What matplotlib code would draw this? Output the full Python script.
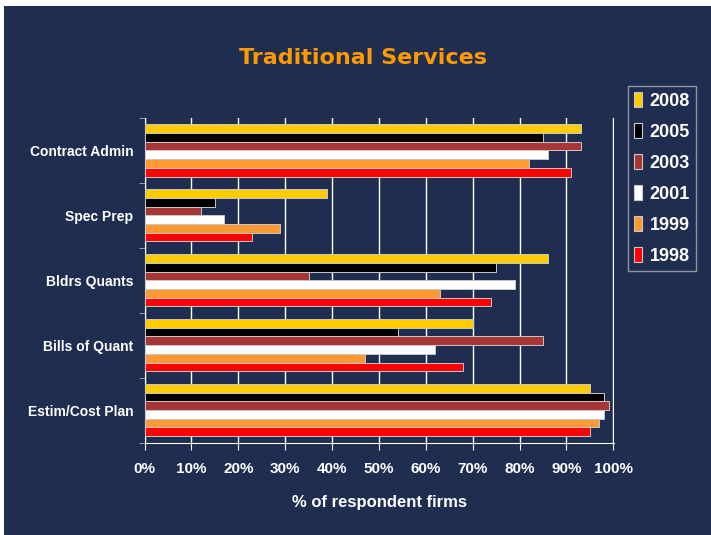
import numpy as np
import matplotlib.pyplot as plt
from matplotlib.patches import Rectangle, Patch

categorias = ["Contract Admin", "Spec Prep", "Bldrs Quants", "Bills of Quant", "Estim/Cost Plan"]
anos = ["2008", "2005", "2003", "2001", "1999", "1998"]

v2008 = [93, 39, 86, 70, 95]
v2005 = [85, 15, 75, 54, 98]
v2003 = [93, 12, 35, 85, 99]
v2001 = [86, 17, 79, 62, 98]
v1999 = [82, 29, 63, 47, 97]
v1998 = [91, 23, 74, 68, 95]

colores = ["#FFCC00", "#000000", "#A83636", "#FFFFFF", "#FF9933", "#FF0000"]
fondo = "#1F2D50"

series = [v2008, v2005, v2003, v2001, v1999, v1998]

fig = plt.figure(figsize=(7.11, 5.35), dpi=100, facecolor="white")
# panel azul oscuro
fig.patches.append(Rectangle((4 / 711, 0), 1, 1 - 6 / 535, transform=fig.transFigure,
                             facecolor=fondo, edgecolor="none", zorder=-10))

ax = fig.add_axes([144.5 / 711, 1 - 442.5 / 535, 469.8 / 711, 324.5 / 535])
ax.set_facecolor(fondo)
ax.set_zorder(2)

n = np.arange(len(categorias))
alto = 0.134
for k, (vals, col) in enumerate(zip(series, colores)):
    pos = n - 2.5 * alto + k * alto
    ax.barh(pos, vals, height=alto, color=col, edgecolor="#C8C8C8", linewidth=0.7,
            zorder=3, label=anos[k])

ax.set_xlim(0, 100.2)
ax.set_ylim(len(categorias) - 0.5, -0.5)
ax.set_xticks(np.arange(0, 101, 10))
ax.set_xticklabels([f"{x}%" for x in range(0, 101, 10)])
ax.set_yticks(n)
ax.set_yticklabels(categorias)
ax.set_yticks(np.arange(-0.5, len(categorias) + 0.5, 1), minor=True)

for lab in ax.get_xticklabels():
    lab.set_fontfamily("Liberation Sans")
    lab.set_fontweight("bold")
    lab.set_fontsize(11)
    lab.set_color("white")
for lab in ax.get_yticklabels():
    lab.set_fontfamily("Liberation Sans")
    lab.set_fontweight("bold")
    lab.set_fontsize(10)
    lab.set_color("white")

ax.tick_params(axis="x", direction="out", length=5, color="white", pad=9)
ax.tick_params(axis="y", which="major", length=0, pad=8)
ax.tick_params(axis="y", which="minor", direction="out", length=4, color="#B0B0B0")

ax.grid(axis="x", color="white", linewidth=1, zorder=1)
for lado in ["top", "right"]:
    ax.spines[lado].set_visible(False)
ax.spines["left"].set_color("white")
ax.spines["bottom"].set_color("white")

ax.set_xlabel("% of respondent firms", fontfamily="Liberation Sans", fontweight="bold",
              fontsize=12, color="white", labelpad=14)

fig.text(363 / 711, 1 - 58 / 535, "Traditional Services", ha="center", va="center",
         fontsize=16, fontweight="bold", color="#FF9900", fontfamily="DejaVu Sans")

handles = [Patch(facecolor=c, edgecolor="#C8C8C8", linewidth=0.8) for c in colores]
leg = fig.legend(handles, anos, loc="upper left", bbox_to_anchor=(628 / 711, 1 - 85.7 / 535),
                 borderaxespad=0, frameon=True, fancybox=False, handlelength=0.45,
                 handleheight=0.9, handletextpad=0.4, labelspacing=0.74, borderpad=0.35,
                 prop={"family": "Liberation Sans", "weight": "bold", "size": 13})
leg.get_frame().set_facecolor(fondo)
leg.get_frame().set_edgecolor("#B0B0B0")
leg.get_frame().set_linewidth(1)
for t in leg.get_texts():
    t.set_color("white")

fig.savefig("out.png", dpi=100, facecolor="white")
